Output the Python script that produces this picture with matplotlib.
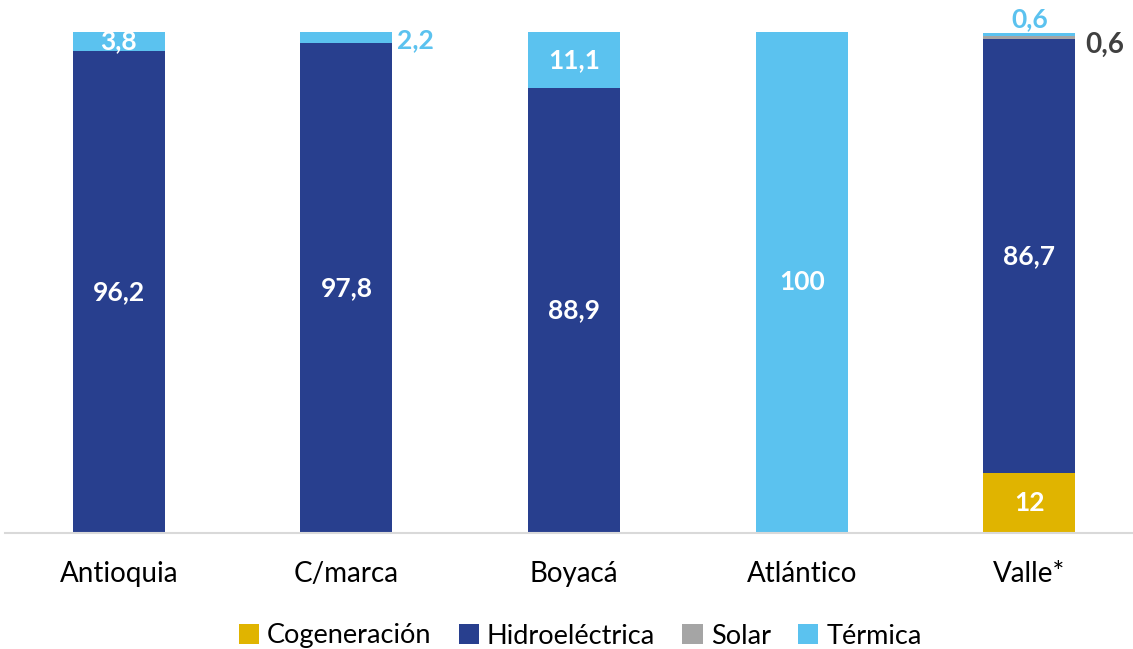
import matplotlib
matplotlib.use("Agg")
import matplotlib.pyplot as plt
from matplotlib.patches import Patch
import numpy as np

plt.rcParams['font.family'] = ['Lato', 'DejaVu Sans']

categories = ["Antioquia", "C/marca", "Boyacá", "Atlántico", "Valle*"]
series_names = ["Cogeneración", "Hidroeléctrica", "Solar", "Térmica"]
cogeneracion = [0, 0, 0, 0, 12]
hidroelectrica = [96.2, 97.8, 88.9, 0, 86.7]
solar = [0, 0, 0, 0, 0.6]
termica = [3.8, 2.2, 11.1, 100, 0.6]

colors = ["#E0B400", "#283F8E", "#A5A5A5", "#5BC2EF"]

def fmt(v):
    s = f"{v:.1f}".replace(".", ",")
    if s.endswith(",0"):
        s = s[:-2]
    return s

fig = plt.figure(figsize=(11.33, 6.49), dpi=100)
ax = fig.add_axes([5/1133, (649-533)/649, 1 - 5/1133, (533-32)/649])
x = np.arange(len(categories))
width = 0.404
data = [cogeneracion, hidroelectrica, solar, termica]
bottom = np.zeros(len(categories))
for vals, col in zip(data, colors):
    ax.bar(x, vals, width, bottom=bottom, color=col, zorder=2)
    bottom += np.array(vals)

fs = 19
lab_kw = dict(fontsize=fs, fontweight='bold', ha='center', va='center')
for i in range(len(categories)):
    b = 0
    for j, vals in enumerate(data):
        v = vals[i]
        if v >= 3:
            ax.text(x[i], b + v / 2, fmt(v), color='white', **lab_kw)
        b += v
ax.text(x[1] + width / 2 + 0.02, 98.4, fmt(termica[1]), color=colors[3],
        fontsize=fs, fontweight='bold', ha='left', va='center')
ax.text(x[4], 102.5, fmt(termica[4]), color=colors[3], clip_on=False, **lab_kw)
ax.text(x[4] + width / 2 + 0.045, 97.5, fmt(solar[4]), color='#404040',
        fontsize=20, fontweight='bold', ha='left', va='center', clip_on=False)

ax.set_xlim(-0.5, (1133 - 119) / 227.6)
ax.set_ylim(0, 100)
ax.set_yticks([])
ax.set_xticks(x)
ax.set_xticklabels(categories, fontsize=20)
ax.tick_params(axis='x', length=0, pad=20)
for s in ['top', 'right', 'left']:
    ax.spines[s].set_visible(False)
ax.spines['bottom'].set_color('#D9D9D9')
ax.spines['bottom'].set_linewidth(1.5)

handles = [Patch(facecolor=c, edgecolor='none') for c in colors]
fig.legend(handles, series_names, loc='center', bbox_to_anchor=(0.512, 13/649),
           ncol=4, frameon=False, fontsize=19.5, handlelength=0.75, handleheight=0.75,
           handletextpad=0.3, columnspacing=1.0)

fig.savefig("out.png", dpi=100)
